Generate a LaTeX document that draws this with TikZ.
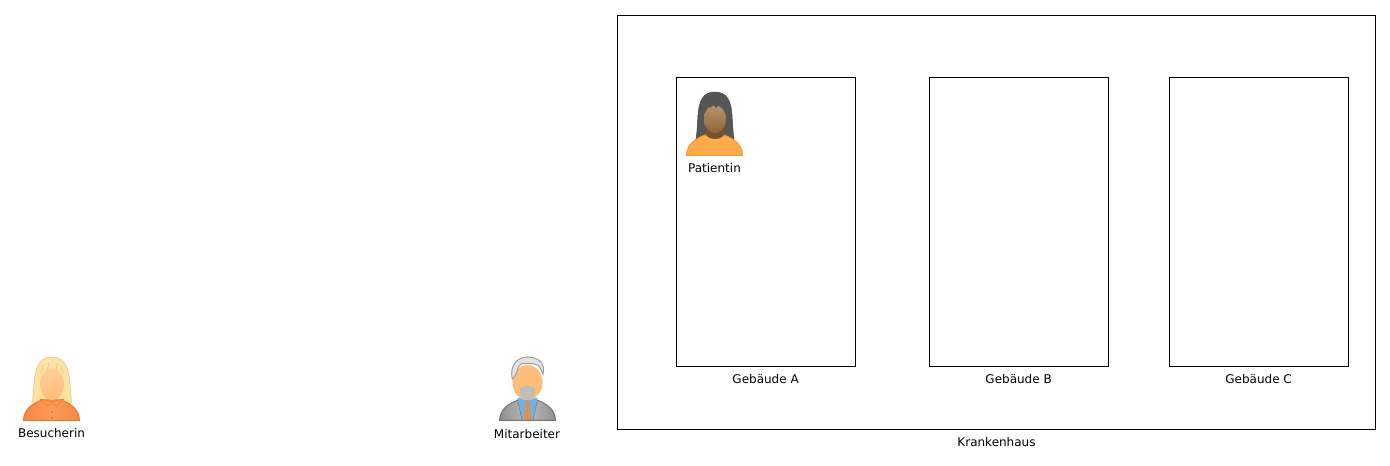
\documentclass[tikz,border=0pt]{standalone}
\usepackage{fontspec}
\usepackage{xcolor}
\setmainfont{DejaVu Sans}
\usetikzlibrary{positioning}
\definecolor{hairblond}{HTML}{FBE3A4}
\definecolor{hairblondline}{HTML}{E8C678}
\definecolor{skin}{HTML}{FFBF78}
\definecolor{skinline}{HTML}{F7A650}
\definecolor{dressorange}{HTML}{FF9A55}
\definecolor{dressline}{HTML}{F0752A}
\definecolor{hairgrey}{HTML}{E2E2E2}
\definecolor{suitgrey}{HTML}{BDBDBD}
\definecolor{suitline}{HTML}{757575}
\definecolor{shirtblue}{HTML}{6FB2E4}
\definecolor{tieorange}{HTML}{F58A35}
\definecolor{hairdark}{HTML}{565656}
\definecolor{skinbrown}{HTML}{A67845}
\definecolor{shirtamber}{HTML}{FFAC4D}
\definecolor{amberline}{HTML}{F09A30}
\tikzset{
  % shoulders shared by all three figures
  shoulders/.pic={
    \path[pic actions] (0.5,64.5) .. controls (1,53) and (9,48) .. (19,44)
      -- (38,44) .. controls (48,48) and (56,53) .. (56.5,64.5) -- cycle;
  },
  besucherin/.pic={
    \draw[fill=hairblond, draw=hairblondline] (29,1) .. controls (15,1) and (12,14) .. (11,28)
      .. controls (10.5,38) and (9,44) .. (10,48) -- (48,48)
      .. controls (49,44) and (47.5,38) .. (47,28) .. controls (46,14) and (43,1) .. (29,1) -- cycle;
    \pic[draw=dressline, line width=0.75pt, left color=dressline!85!white, right color=dressline!85!white, middle color=dressorange] {shoulders};
    \shade[top color=skin!75!white, bottom color=skin] (29,28) ellipse (12 and 16);
    \draw[dressline, fill=dressorange] (17,43) -- (25,50) -- (29,46) -- (33,50) -- (41,43) -- (29,46) -- cycle;
    \fill[dressline!85!black] (29,56) circle (1) (29,62) circle (1);
    \draw[hairblondline] (18,18) -- (20,9) (24,15) -- (26,7) (34,15) -- (33,7) (40,18) -- (38,9);
  },
  mitarbeiter/.pic={
    \pic[draw=suitline, line width=0.75pt, left color=suitgrey!75!black, right color=suitgrey!75!black, middle color=suitgrey] {shoulders};
    \fill[shirtblue] (18.5,42) -- (38.5,42) -- (34,64) -- (23,64) -- cycle;
    \draw[suitline] (18.5,44) -- (23,64) (38.5,44) -- (34,64);
    \fill[tieorange] (25.5,46) -- (31.5,46) -- (30,50) -- (32,64) -- (25,64) -- (27,50) -- cycle;
    \fill[skin] (28.5,26.5) ellipse (15 and 17.5);
    \fill[suitgrey] (21,32) .. controls (24,29) and (33,29) .. (36,32)
      .. controls (37,40) and (33,44) .. (28.5,44) .. controls (24,44) and (20,40) .. (21,32) -- cycle;
    \fill[skin!80!suitgrey] (25,36.5) rectangle (32,37.5);
    \draw[fill=hairgrey, draw=suitline!70!white, line width=0.75pt] (13.3,23) .. controls (10,8) and (20,1) .. (28,1)
      .. controls (38,1) and (47,6) .. (44,18) .. controls (42,13) and (40,9) .. (37,8.5)
      .. controls (32,7) and (26,7) .. (22,8) .. controls (18,10) and (19,18) .. (13.3,23) -- cycle;
  },
  patientin/.pic={
    \draw[fill=hairdark, draw=hairdark!80!black] (29,1) .. controls (17,1) and (13,10) .. (12,24)
      .. controls (11.5,34) and (11,42) .. (10,48) -- (48,48)
      .. controls (47,42) and (46.5,34) .. (46,24) .. controls (45,10) and (41,1) .. (29,1) -- cycle;
    \pic[draw=amberline, line width=0.75pt, left color=shirtamber!85!amberline, right color=shirtamber!85!amberline, middle color=shirtamber] {shoulders};
    \fill[skinbrown!70!black] (29,41) ellipse (10 and 7);
    \shade[top color=skinbrown!80!white, bottom color=skinbrown!85!black] (29,28) ellipse (11 and 14);
    \fill[hairdark] (18,18) -- (19,12) -- (40,12) -- (40,18) -- (37,14) -- (35,17) -- (33,14) -- (30,17)
      -- (27,14) -- (24,17) -- (22,14) -- cycle;
  },
  house/.style={rectangle, draw, line width=0.75pt, inner sep=0pt, outer sep=0pt, anchor=north west},
  caption/.style={font=\fontsize{9}{11}\selectfont, inner sep=0pt},
}
\begin{document}
\begin{tikzpicture}[x=0.75pt, y=-0.75pt]
  \useasboundingbox (0,0) rectangle (1390,466);
  \node[house, minimum width=568.5pt, minimum height=310.5pt] (krankenhaus) at (617.5,15.5) {};
  \node[house, minimum width=134.25pt, minimum height=216.75pt] (gebA) at (676.5,77.5) {};
  \node[house, minimum width=134.25pt, minimum height=216.75pt] (gebB) at (929.5,77.5) {};
  \node[house, minimum width=134.25pt, minimum height=216.75pt] (gebC) at (1169.5,77.5) {};
  \node[caption, below=5.75pt of krankenhaus] (kLabel) {Krankenhaus};
  \node[caption, below=5.75pt of gebA, xshift=-0.3pt] (aLabel) {Gebäude A};
  \node[caption, below=5.75pt of gebB, xshift=-0.3pt] (bLabel) {Gebäude B};
  \node[caption, below=5.75pt of gebC, xshift=-0.3pt] (cLabel) {Gebäude C};
  \pic at (23,356) {besucherin};
  \pic at (499,356) {mitarbeiter};
  \pic at (686,91) {patientin};
  \node[caption] (besucherinLabel) at (51.5,433) {Besucherin};
  \node[caption] (mitarbeiterLabel) at (527,434) {Mitarbeiter};
  \node[caption] (patientinLabel) at (714.5,168) {Patientin};
\end{tikzpicture}
\end{document}
